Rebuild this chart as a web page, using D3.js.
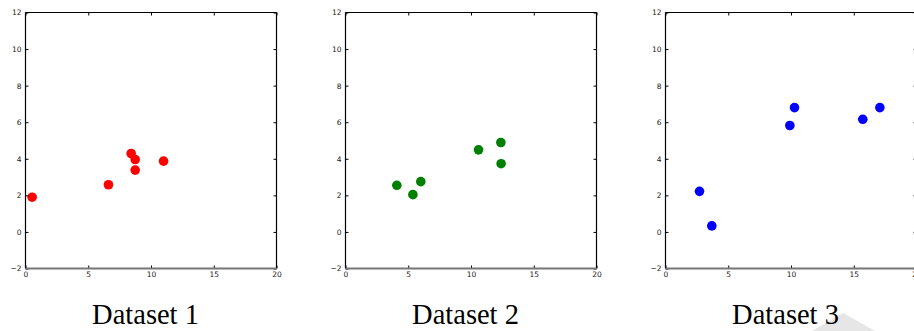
<!DOCTYPE html>
<html><head><meta charset="utf-8">
<script src="https://cdn.jsdelivr.net/npm/d3@7"></script>
<style>
html,body{margin:0;padding:0;background:#fff;overflow:hidden;}
svg{display:block;}
.tick text{font-family:"DejaVu Sans",sans-serif;font-size:7.5px;fill:#222;}
</style></head>
<body>
<svg id="chart" width="914" height="331"></svg>
<script>
const titles = ["Dataset 1", "Dataset 2", "Dataset 3"];
const colors = ["#ff0000", "#008000", "#0000ff"];
const xTicks = [0, 5, 10, 15, 20];
const yTicks = [-2, 0, 2, 4, 6, 8, 10, 12];
const xDomain = [0, 20];
const yDomain = [-2, 12];
const set1X = [0.53, 6.61, 8.42, 8.74, 8.74, 11.0];
const set1Y = [1.90, 2.58, 4.29, 3.96, 3.38, 3.87];
const set2X = [4.09, 5.37, 6.0, 10.6, 12.38, 12.40];
const set2Y = [2.55, 2.04, 2.75, 4.49, 4.89, 3.73];
const set3X = [2.71, 3.69, 9.91, 10.28, 15.72, 17.08];
const set3Y = [2.22, 0.33, 5.82, 6.80, 6.16, 6.80];
const datasets = [[set1X, set1Y], [set2X, set2Y], [set3X, set3Y]];

const svg = d3.select("#chart");
const panelLefts = [25.5, 345.5, 665.5];
const panelTop = 12.5, w = 251, h = 256;

// light gray watermark triangle at bottom right
svg.append("path")
  .attr("d", "M812,331 L843,313 L875,331 Z")
  .attr("fill", "#e6e6e6");

datasets.forEach(([xs, ys], i) => {
  const g = svg.append("g").attr("transform", `translate(${panelLefts[i]},${panelTop})`);
  const x = d3.scaleLinear().domain(xDomain).range([0, w]);
  const y = d3.scaleLinear().domain(yDomain).range([h, 0]);
  const fmt = d => d < 0 ? "\u2212" + Math.abs(d) : String(d);

  g.selectAll("circle").data(xs.map((v, k) => [v, ys[k]])).join("circle")
    .attr("cx", d => x(d[0])).attr("cy", d => y(d[1]))
    .attr("r", 4.8).attr("fill", colors[i]);

  const bottom = g.append("g").attr("transform", `translate(0,${h})`)
    .call(d3.axisBottom(x).tickValues(xTicks).tickFormat(fmt).tickSizeInner(-3).tickSizeOuter(0).tickPadding(4));
  const left = g.append("g")
    .call(d3.axisLeft(y).tickValues(yTicks).tickFormat(fmt).tickSizeInner(-3).tickSizeOuter(0).tickPadding(4));
  const topAx = g.append("g")
    .call(d3.axisTop(x).tickValues(xTicks).tickFormat("").tickSizeInner(-3).tickSizeOuter(0));
  const rightAx = g.append("g").attr("transform", `translate(${w},0)`)
    .call(d3.axisRight(y).tickValues(yTicks).tickFormat("").tickSizeInner(-3).tickSizeOuter(0));
  [bottom, left, topAx, rightAx].forEach(a => {
    a.select(".domain").remove();
    a.selectAll(".tick line").attr("stroke", "#000").attr("stroke-width", 1);
  });
  bottom.selectAll(".tick text").attr("dy", "0.6em");
  left.selectAll(".tick text").attr("dy", "0.32em");

  g.append("line").attr("x1", 0).attr("x2", w).attr("y1", 0).attr("y2", 0).attr("stroke", "#000").attr("stroke-width", 1.2);
  g.append("line").attr("x1", 0).attr("x2", 0).attr("y1", 0).attr("y2", h).attr("stroke", "#000").attr("stroke-width", 1.2);
  g.append("line").attr("x1", w).attr("x2", w).attr("y1", 0).attr("y2", h).attr("stroke", "#000").attr("stroke-width", 1.2);
  g.append("line").attr("x1", 0).attr("x2", w).attr("y1", h).attr("y2", h).attr("stroke", "#777").attr("stroke-width", 2);

  g.append("text").attr("x", 120).attr("y", 324 - panelTop)
    .attr("text-anchor", "middle")
    .attr("font-family", "'Liberation Serif','Times New Roman',serif")
    .attr("font-size", 28.5).attr("fill", "#000")
    .text(titles[i]);
});
</script>
</body></html>
